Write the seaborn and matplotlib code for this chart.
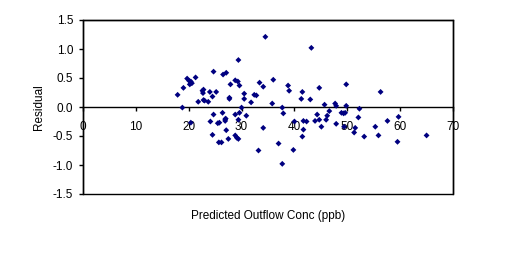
import matplotlib
matplotlib.use("Agg")
import matplotlib.pyplot as plt
import seaborn as sns
import pandas as pd
from matplotlib.patches import Rectangle

predicted = [17.9, 18.8, 19.0, 19.7, 20.1, 20.2, 20.4, 20.6, 20.4, 21.3,
             21.8, 22.6, 22.7, 22.8, 22.8, 23.0, 23.7, 24.0, 24.1, 24.5,
             24.5, 24.7, 24.7, 25.2, 25.5, 25.7, 25.8, 26.2, 26.4, 26.5,
             26.9, 26.9, 27.0, 27.1, 27.1, 27.5, 27.7, 27.7, 27.9, 28.8,
             28.8, 28.8, 29.1, 29.3, 29.4, 29.4, 29.4, 29.6, 29.6, 30.0,
             30.5, 30.5, 30.9, 31.8, 32.4, 32.8, 33.2, 33.4, 34.1, 34.1,
             34.5, 35.8, 36.0, 37.0, 37.7, 37.7, 37.9, 38.8, 39.0, 39.8,
             40.0, 41.3, 41.5, 41.5, 41.7, 41.7, 42.3, 43.0, 43.2, 43.9,
             44.3, 44.7, 44.7, 45.1, 45.7, 46.0, 46.2, 46.6, 47.7, 47.9,
             47.9, 48.9, 49.3, 49.6, 49.4, 49.8, 49.8, 51.3, 51.5, 52.1,
             52.3, 53.2, 55.3, 55.9, 56.3, 57.6, 59.5, 59.7, 65.0]
residual = [0.21, -0.01, 0.33, 0.49, 0.45, 0.39, 0.44, 0.41, -0.27, 0.51,
            0.09, 0.28, 0.24, 0.30, 0.12, 0.11, 0.09, 0.26, -0.25, 0.18,
            -0.48, 0.61, -0.13, 0.26, -0.28, -0.61, -0.27, -0.61, -0.10, 0.56,
            -0.21, -0.24, -0.20, 0.59, -0.40, -0.55, 0.16, 0.14, 0.39, 0.46,
            -0.13, -0.49, -0.53, 0.44, 0.81, -0.55, -0.22, 0.37, -0.10, -0.01,
            0.23, 0.14, -0.15, 0.08, 0.21, 0.20, -0.75, 0.42, 0.35, -0.36,
            1.21, 0.06, 0.47, -0.63, -0.01, -0.98, -0.11, 0.37, 0.28, -0.74,
            -0.25, 0.14, 0.26, -0.51, -0.24, -0.39, -0.25, 0.13, 1.02, -0.24,
            -0.13, 0.33, -0.22, -0.34, 0.04, -0.22, -0.15, -0.07, 0.06, 0.02,
            -0.29, -0.10, -0.11, -0.10, -0.34, 0.39, 0.02, -0.44, -0.36, -0.18,
            -0.03, -0.51, -0.34, -0.49, 0.26, -0.24, -0.60, -0.17, -0.49]

x_ticks = [0, 10, 20, 30, 40, 50, 60, 70]
y_ticks = [-1.5, -1.0, -0.5, 0.0, 0.5, 1.0, 1.5]
y_tick_labels = ["-1.5", "-1.0", "-0.5", "0.0", "0.5", "1.0", "1.5"]

df = pd.DataFrame({"Predicted Outflow Conc (ppb)": predicted, "Residual": residual})

sns.set_style("white")
plt.rcParams["font.family"] = ["Liberation Sans", "DejaVu Sans"]

fig = plt.figure(figsize=(5.11, 2.57), dpi=100)
ax = fig.add_axes([83/511, 1 - 194/257, 370/511, 174/257])

sns.scatterplot(data=df, x="Predicted Outflow Conc (ppb)", y="Residual", ax=ax,
                marker="D", s=9, color="#000080", edgecolor="none", linewidth=0,
                zorder=3)

ax.set_xlim(0, 70)
ax.set_ylim(-1.5, 1.5)
ax.set_xticks(x_ticks)
ax.set_xticklabels([str(t) for t in x_ticks])
ax.set_yticks(y_ticks)
ax.set_yticklabels(y_tick_labels)

for s in ["top", "right", "left"]:
    ax.spines[s].set_visible(True)
    ax.spines[s].set_color("black")
    ax.spines[s].set_linewidth(1.0)
ax.spines["bottom"].set_position(("data", 0))
ax.spines["bottom"].set_color("black")
ax.spines["bottom"].set_linewidth(1.0)
ax.add_patch(Rectangle((0, 0), 1, 1, transform=ax.transAxes, fill=False,
                       edgecolor="black", linewidth=1.0, clip_on=False, zorder=5))

fs = 8.5
ax.tick_params(axis="x", direction="out", length=3, width=1, pad=7,
               labelsize=fs, colors="black", bottom=True)
ax.tick_params(axis="y", direction="out", length=3, width=1, pad=4,
               labelsize=fs, colors="black", left=True)

ax.set_xlabel("Predicted Outflow Conc (ppb)", fontsize=fs, color="black")
ax.xaxis.label.set_va("top")
ax.xaxis.set_label_coords(0.5, -0.09)
ax.set_ylabel("Residual", fontsize=fs, color="black")
ax.yaxis.label.set_va("center")
ax.yaxis.label.set_ha("center")
ax.yaxis.set_label_coords(-0.119, 0.5)

fig.savefig("out.png", dpi=100, facecolor="white")
